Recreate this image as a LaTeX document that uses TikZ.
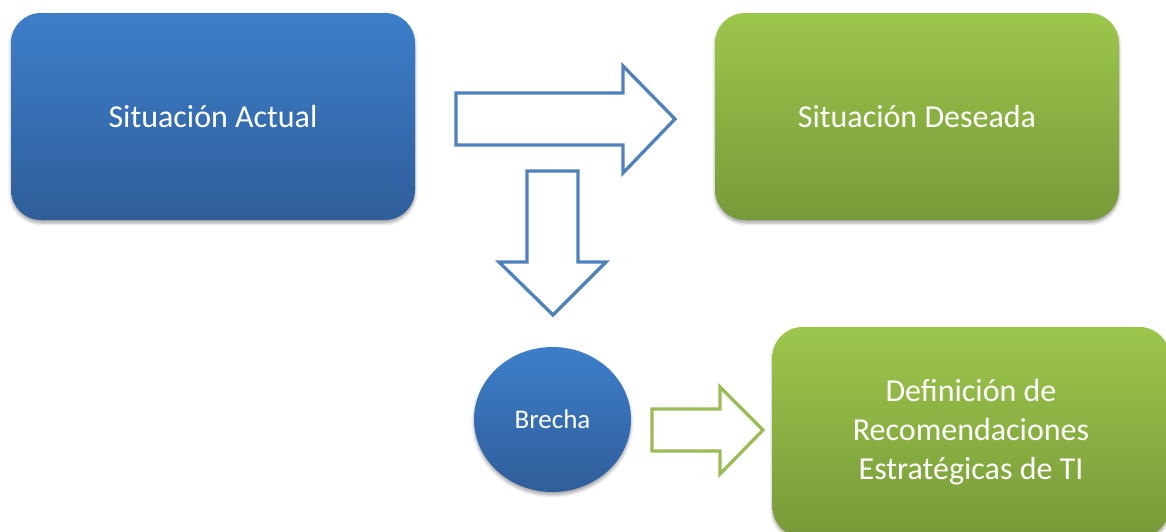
\documentclass[tikz,border=0pt]{standalone}
\usepackage{fontspec}
\setmainfont{Carlito}
\usetikzlibrary{shapes.geometric,shadows.blur}

\definecolor{blueTop}{HTML}{3D7ECA}
\definecolor{blueBot}{HTML}{2F5E9A}
\definecolor{greenTop}{HTML}{9DC64C}
\definecolor{greenBot}{HTML}{779A39}
\definecolor{blueLine}{HTML}{4F81BD}
\definecolor{greenLine}{HTML}{9BBB59}

\tikzset{
  softshadow/.style={blur shadow={shadow xshift=0pt, shadow yshift=-3pt,
                     shadow blur radius=3pt, shadow opacity=35}},
  card/.style={rounded corners=30pt, inner sep=0pt, draw=none, softshadow,
               text=white, align=center, font=\fontsize{32}{39}\selectfont},
  bluecard/.style={card, top color=blueTop, bottom color=blueBot},
  greencard/.style={card, top color=greenTop, bottom color=greenBot},
  bluebubble/.style={ellipse, inner sep=0pt, draw=none, softshadow,
               top color=blueTop, bottom color=blueBot, text=white,
               font=\fontsize{27}{32}\selectfont},
  blockarrow/.style={line width=3.3pt, fill=white, line join=miter},
}

\begin{document}
\begin{tikzpicture}[x=1pt, y=-1pt]
  \useasboundingbox (0,0) rectangle (1166,531);
  \clip (0,0) rectangle (1166,531);

  % main stages
  \node[bluecard, minimum width=404pt, minimum height=207pt] (actual)
    at (213,116.5) {Situación Actual};
  \node[greencard, minimum width=404pt, minimum height=207pt] (deseada)
    at (917,116.5) {Situación Deseada};
  \node[greencard, minimum width=397pt, minimum height=210pt] (recom)
    at (971,432) {Definición de\\Recomendaciones\\Estratégicas de TI};
  \node[bluebubble, minimum width=157pt, minimum height=145pt] (brecha)
    at (552.5,419.5) {Brecha};

  % block arrow from current to desired situation
  \draw[blockarrow, draw=blueLine]
    (456,93) -- (623,93) -- (623,66) -- (675,119) -- (623,173)
    -- (623,145) -- (456,145) -- cycle;

  % block arrow down to the gap
  \draw[blockarrow, draw=blueLine]
    (527,171) -- (578,171) -- (578,262) -- (606,262) -- (553,315)
    -- (499,262) -- (527,262) -- cycle;

  % block arrow from the gap to the recommendations
  \draw[blockarrow, draw=greenLine]
    (652,409) -- (720,409) -- (720,387) -- (763,430) -- (720,474)
    -- (720,451) -- (652,451) -- cycle;
\end{tikzpicture}
\end{document}
